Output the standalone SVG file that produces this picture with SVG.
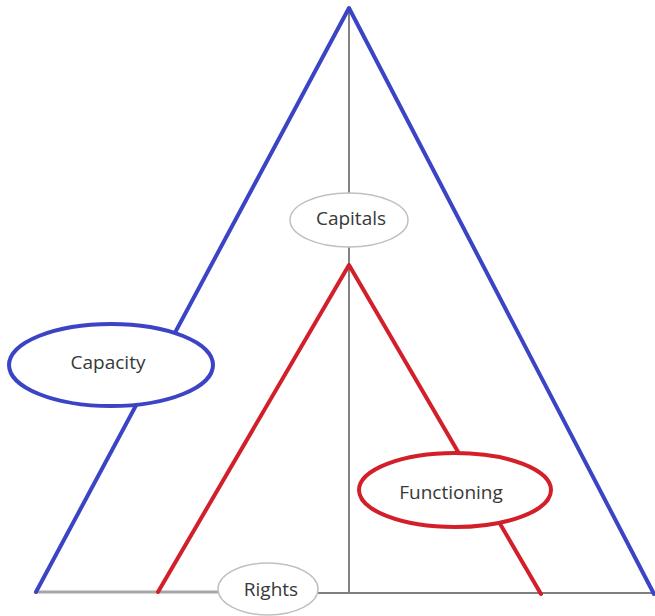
<svg xmlns="http://www.w3.org/2000/svg" width="655" height="616" viewBox="0 0 655 616">
<style>
.lbl{font-family:"Open Sans","Liberation Sans",sans-serif;font-size:19px;fill:#383838;text-anchor:middle;dominant-baseline:central}
.blue{stroke:#3b44c4;stroke-width:4;fill:none;stroke-linecap:round;stroke-linejoin:round}
.red{stroke:#d21f2a;stroke-width:4;fill:none;stroke-linecap:round;stroke-linejoin:round}
</style>
<rect width="655" height="616" fill="#ffffff"/>
<g id="connectors">
<line x1="349" y1="8" x2="349" y2="594" stroke="#404040" stroke-width="1.3"/>
<line x1="36" y1="592" x2="220" y2="592" stroke="#a6a6a6" stroke-width="3"/>
<line x1="316" y1="593" x2="655" y2="593" stroke="#7f7f7f" stroke-width="2"/>
<polyline class="blue" points="36,592 349,8 654,594"/>
<polyline class="red" points="158,592 349,265 541,594"/>
</g>
<g id="capitals">
<ellipse cx="349" cy="220" rx="59" ry="27" fill="#ffffff" stroke="#c0c0c0" stroke-width="1.5"/>
<text class="lbl" x="351" y="218">Capitals</text>
</g>
<g id="capacity">
<ellipse cx="111" cy="365" rx="102" ry="41" fill="#ffffff" stroke="#3b44c4" stroke-width="4"/>
<text class="lbl" x="108" y="362">Capacity</text>
</g>
<g id="functioning">
<ellipse cx="455" cy="490" rx="96" ry="37" fill="#ffffff" stroke="#d21f2a" stroke-width="4"/>
<text class="lbl" x="451" y="492">Functioning</text>
</g>
<g id="rights">
<ellipse cx="268" cy="589" rx="50" ry="26" fill="#ffffff" stroke="#c0c0c0" stroke-width="1.5"/>
<text class="lbl" x="271" y="589">Rights</text>
</g>
</svg>
